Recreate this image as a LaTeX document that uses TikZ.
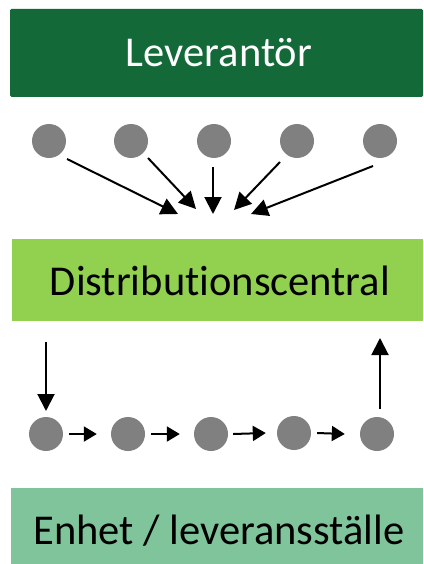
\documentclass[tikz,border=0pt]{standalone}
\usepackage{fontspec}
\setmainfont{Carlito}[Ligatures=CommonOff]
\usetikzlibrary{arrows.meta}
\definecolor{darkgreen}{HTML}{136A38}
\definecolor{lightgreen}{HTML}{92D050}
\definecolor{midgreen}{HTML}{7FC49A}
\definecolor{dotgray}{HTML}{808080}
\tikzset{
  bandtext/.style={font=\fontsize{42.5}{46}\selectfont, inner sep=0pt},
  dot/.style={circle, fill=dotgray, minimum size=34pt, inner sep=0pt},
  bigarrow/.style={line width=2pt, -{Triangle[length=17pt,width=17pt]}},
  smallarrow/.style={line width=2pt, -{Triangle[length=13pt,width=15pt]}},
}
\begin{document}
\begin{tikzpicture}[x=1pt,y=-1pt]
\useasboundingbox (0,0) rectangle (423,564);
% bands
\fill[darkgreen, rounded corners=1.5pt] (10,9) rectangle (423,97);
\node[bandtext, text=white] (lev) at (219,53) {Leverantör};
\fill[lightgreen] (12,239) rectangle (423,321);
\node[bandtext] (dc) at (220,281) {Distributionscentral};
\fill[midgreen] (11,488) rectangle (423,564);
\node[bandtext] (enh) at (219,531) {Enhet / leveransställe};
% top dots
\node[dot] (a1) at (49,141) {};
\node[dot] (a2) at (131,141) {};
\node[dot] (a3) at (214,141) {};
\node[dot] (a4) at (297,141) {};
\node[dot] (a5) at (380,141) {};
\coordinate (t1) at (178,214);
\coordinate (t2) at (196,209);
\coordinate (t3) at (213,214);
\coordinate (t4) at (234,210);
\coordinate (t5) at (251,214);
\coordinate (s1) at (67,159);
\coordinate (s2) at (148,158);
\coordinate (s3) at (213,167);
\coordinate (s4) at (280,162);
\coordinate (s5) at (373,166);
\draw[bigarrow] (s1) -- (t1);
\draw[bigarrow] (s2) -- (t2);
\draw[bigarrow] (s3) -- (t3);
\draw[bigarrow] (s4) -- (t4);
\draw[bigarrow] (s5) -- (t5);
% bottom dots
\node[dot] (b1) at (46,434) {};
\node[dot] (b2) at (128,434) {};
\node[dot] (b3) at (211,434) {};
\node[dot] (b4) at (294,433) {};
\node[dot] (b5) at (377,434) {};
\coordinate (d0) at (46,342);
\coordinate (d1) at (46,411);
\coordinate (u0) at (380,409);
\coordinate (u1) at (380,338);
\draw[bigarrow] (d0) -- (d1);
\draw[bigarrow] (u0) -- (u1);
\draw[smallarrow] ([xshift=6pt]b1.east) -- ([xshift=-14pt]b2.west);
\draw[smallarrow] ([xshift=6pt]b2.east) -- ([xshift=-14pt]b3.west);
\draw[smallarrow] ([xshift=5pt]b3.east) -- ([xshift=-11pt]b4.west);
\draw[smallarrow] ([xshift=6pt]b4.east) -- ([xshift=-15pt]b5.west);
\end{tikzpicture}
\end{document}
